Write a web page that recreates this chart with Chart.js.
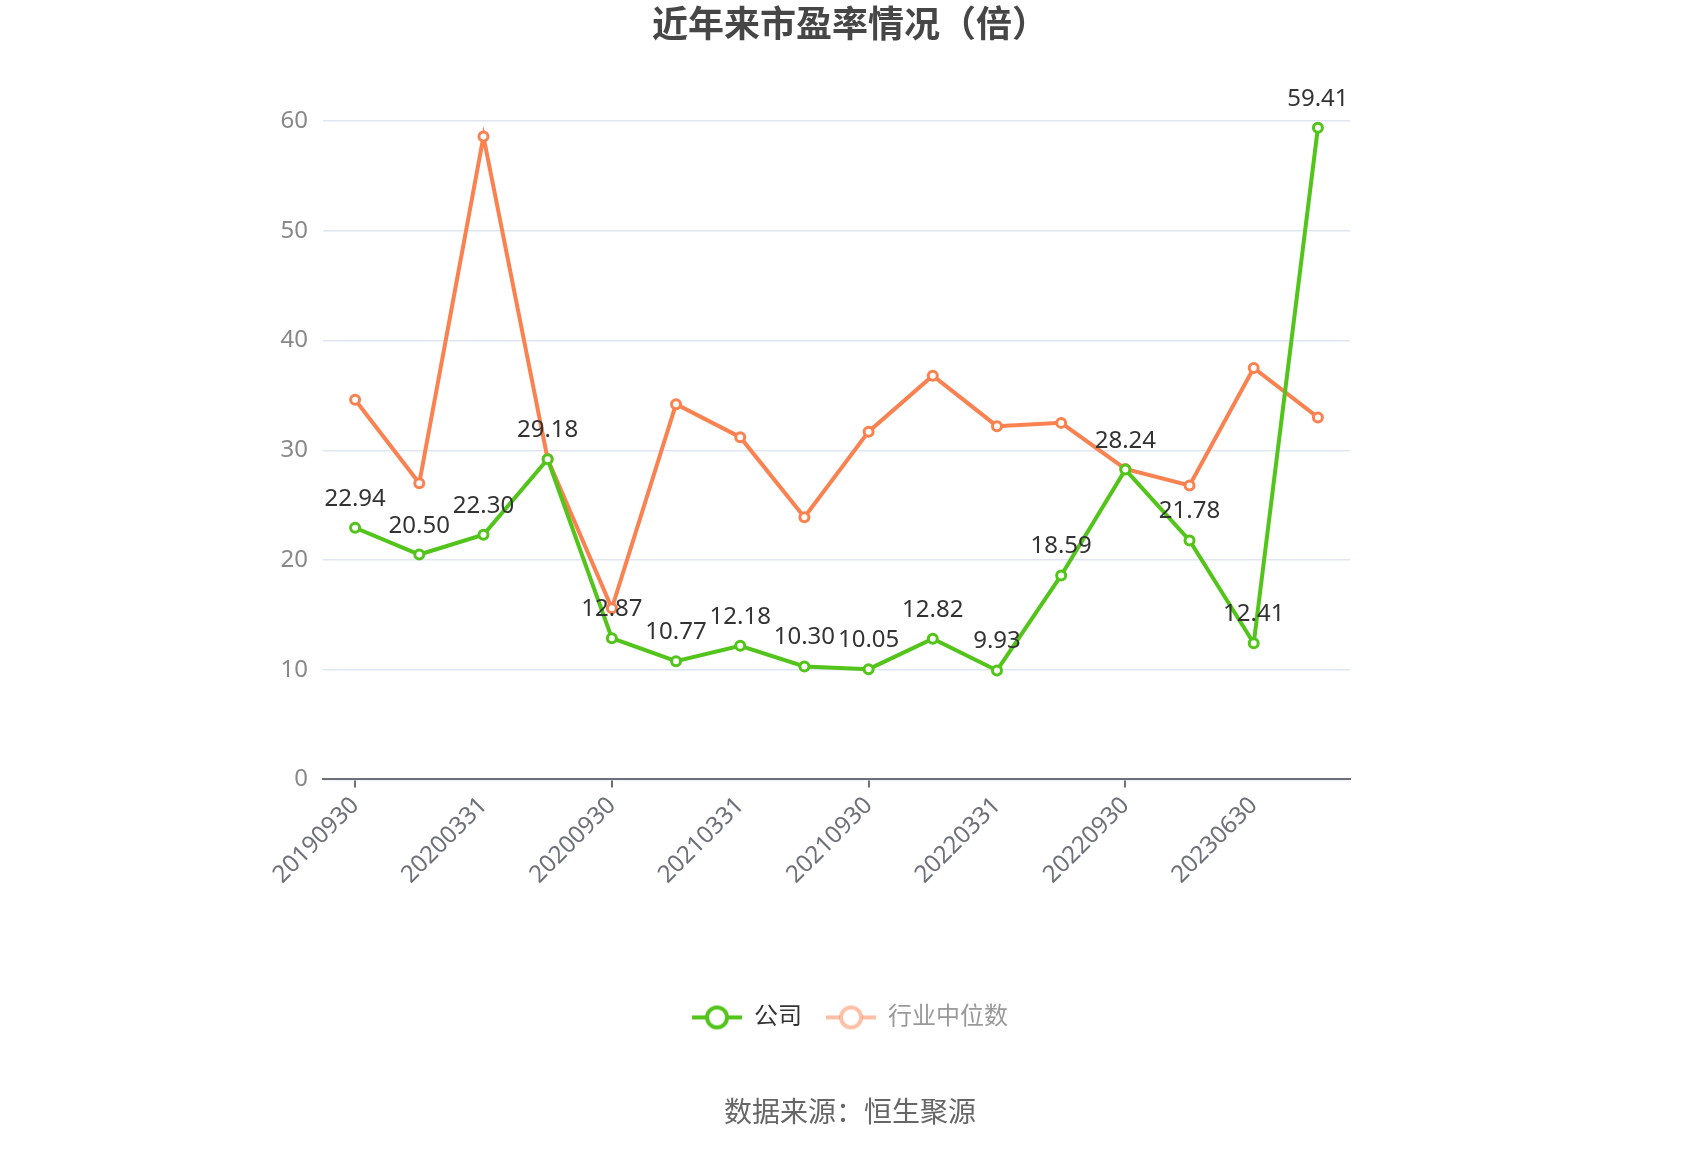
<!DOCTYPE html>
<html>
<head>
<meta charset="utf-8">
<script src="https://cdn.jsdelivr.net/npm/chart.js@4.4.1/dist/chart.umd.min.js"></script>
<style>
  html, body { margin: 0; padding: 0; background: #fff; }
  #wrap { width: 1700px; height: 1150px; }
</style>
</head>
<body>
<div id="wrap"><canvas id="chartPE" width="1700" height="1150"></canvas></div>
<script>
// Datos del gráfico
const fechas = ['20190930', '20191231', '20200331', '20200630', '20200930', '20201231',
                '20210331', '20210630', '20210930', '20211231', '20220331', '20220630',
                '20220930', '20230331', '20230630', '20230930'];
const peEmpresa = [22.94, 20.50, 22.30, 29.18, 12.87, 10.77, 12.18, 10.30, 10.05, 12.82, 9.93, 18.59, 28.24, 21.78, 12.41, 59.41];
const peIndustria = [34.6, 27.0, 58.6, 29.2, 15.6, 34.2, 31.2, 23.9, 31.7, 36.8, 32.2, 32.5, 28.3, 26.8, 37.5, 33.0];
const nombresSeries = ['公司', '行业中位数'];
const ticksY = [0, 10, 20, 30, 40, 50, 60];

const VERDE = '#52c41a';
const NARANJA = '#fa8150';
const FUENTE = '"Noto Sans", "Noto Sans CJK SC", sans-serif';

/**
 * Icono de leyenda: línea con círculo hueco
 */
function crearIcono(color, alpha) {
    const c = document.createElement('canvas');
    c.width = 50;
    c.height = 28;
    const g = c.getContext('2d');
    g.globalAlpha = alpha;
    g.strokeStyle = color;
    g.lineWidth = 4;
    g.beginPath();
    g.moveTo(0, 14);
    g.lineTo(14, 14);
    g.moveTo(36, 14);
    g.lineTo(50, 14);
    g.stroke();
    g.beginPath();
    g.arc(25, 14, 10, 0, Math.PI * 2);
    g.fillStyle = '#fff';
    g.fill();
    g.stroke();
    return c;
}

const iconos = [crearIcono(VERDE, 1), crearIcono(NARANJA, 0.5)];

// Etiquetas de valor sobre los puntos de la empresa
const etiquetasValor = {
    id: 'etiquetasValor',
    afterDatasetsDraw(chart) {
        const ctx = chart.ctx;
        const meta = chart.getDatasetMeta(0);
        ctx.save();
        ctx.font = '24px ' + FUENTE;
        ctx.fillStyle = '#333';
        ctx.textAlign = 'center';
        ctx.textBaseline = 'alphabetic';
        meta.data.forEach((pt, i) => {
            ctx.fillText(peEmpresa[i].toFixed(2), pt.x, pt.y - 22);
        });
        ctx.restore();
    }
};

const ctx = document.getElementById('chartPE').getContext('2d');
new Chart(ctx, {
    type: 'line',
    data: {
        labels: fechas,
        datasets: [
            {
                label: nombresSeries[0],
                data: peEmpresa,
                borderColor: VERDE,
                backgroundColor: '#fff',
                borderWidth: 4,
                pointRadius: 4.5,
                pointBorderWidth: 3,
                pointBorderColor: VERDE,
                pointBackgroundColor: '#fff',
                tension: 0
            },
            {
                label: nombresSeries[1],
                data: peIndustria,
                borderColor: NARANJA,
                backgroundColor: '#fff',
                borderWidth: 4,
                pointRadius: 4.5,
                pointBorderWidth: 3,
                pointBorderColor: NARANJA,
                pointBackgroundColor: '#fff',
                tension: 0
            }
        ]
    },
    options: {
        responsive: false,
        animation: false,
        devicePixelRatio: 1,
        layout: { padding: 0 },
        font: { family: FUENTE },
        plugins: {
            title: {
                display: true,
                text: '近年来市盈率情况（倍）',
                color: '#464646',
                font: { size: 36, weight: 'bold', family: FUENTE },
                padding: { top: 5, bottom: 73 }
            },
            subtitle: {
                display: true,
                position: 'bottom',
                text: '数据来源：恒生聚源',
                color: '#666',
                font: { size: 28, family: FUENTE },
                padding: { top: 58, bottom: 19 }
            },
            legend: {
                display: true,
                position: 'bottom',
                labels: {
                    usePointStyle: true,
                    pointStyleWidth: 50,
                    padding: 24,
                    font: { size: 24, family: FUENTE },
                    generateLabels: (chart) => nombresSeries.map((n, i) => ({
                        text: n,
                        datasetIndex: i,
                        pointStyle: iconos[i],
                        fontColor: i === 0 ? '#333' : '#999',
                        hidden: false,
                        lineWidth: 0,
                        strokeStyle: 'transparent',
                        fillStyle: 'transparent'
                    }))
                }
            },
            tooltip: { enabled: false }
        },
        scales: {
            x: {
                offset: true,
                afterFit: (s) => { s.height = 202; },
                border: { display: true, color: '#6E7079', width: 2 },
                grid: {
                    display: true,
                    offset: false,
                    drawOnChartArea: false,
                    drawTicks: true,
                    tickLength: 8,
                    lineWidth: 2,
                    color: (c) => (c.index % 2 === 0 ? '#6E7079' : 'rgba(0,0,0,0)')
                },
                ticks: {
                    autoSkip: false,
                    maxRotation: 45,
                    minRotation: 45,
                    padding: 4,
                    color: '#6E7079',
                    font: { size: 24, family: FUENTE },
                    callback: function (v, i) { return i % 2 === 0 ? fechas[i] : null; }
                }
            },
            y: {
                min: 0,
                max: 60,
                afterFit: (s) => { s.width = 323; },
                afterBuildTicks: (s) => { s.ticks = ticksY.map(v => ({ value: v })); },
                border: { display: false },
                grid: { color: '#E0E6F1', lineWidth: 1.5, drawTicks: false },
                ticks: {
                    padding: 15,
                    color: '#888',
                    font: { size: 24, family: FUENTE }
                }
            },
            // Eje derecho vacío: sólo reserva el margen derecho
            yDer: {
                position: 'right',
                display: true,
                min: 0,
                max: 60,
                afterFit: (s) => { s.width = 350; },
                border: { display: false },
                grid: { display: false, drawTicks: false },
                ticks: { display: false }
            }
        }
    },
    plugins: [etiquetasValor]
});
</script>
</body>
</html>
